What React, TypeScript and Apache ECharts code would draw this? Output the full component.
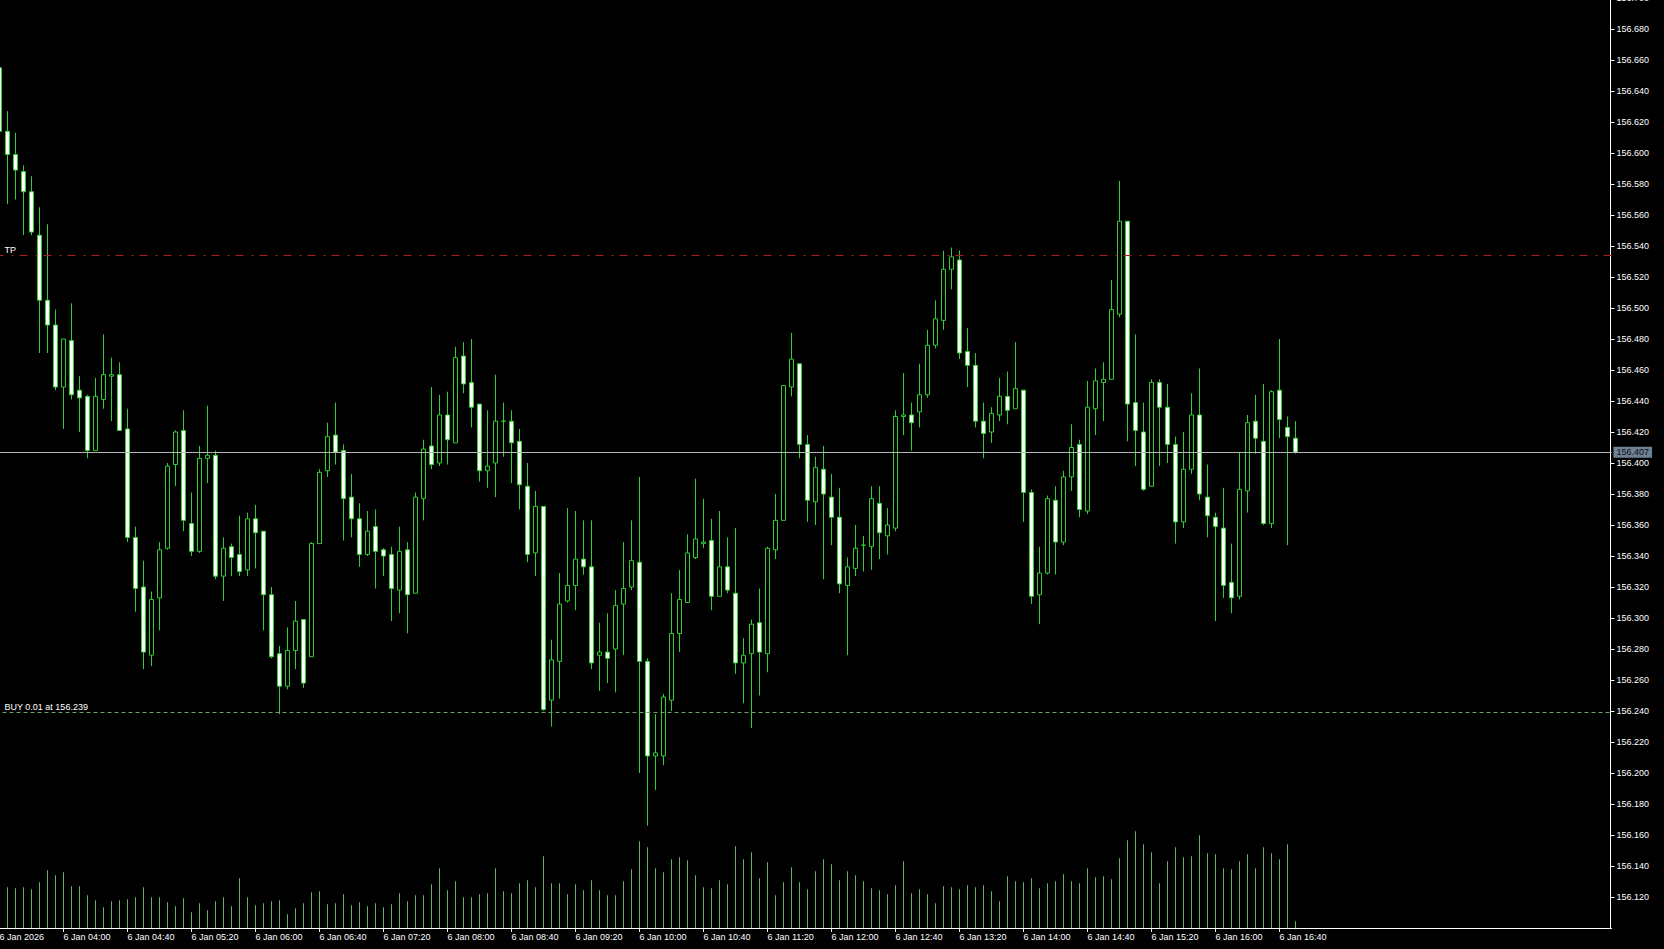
import React, { useEffect, useRef } from "react";
import * as echarts from "echarts";

// ---- data ----
const DAY_LABEL = "6 Jan";
const FIRST_LABEL = "6 Jan 2026";
const START_MINUTES = 3 * 60 + 20; // 03:20
const BAR_MINUTES = 5;
const TOTAL_SLOTS = 202; // visible slots incl. empty right margin
const LABEL_EVERY = 8;

const open = [
  156.655, 156.614, 156.599, 156.588, 156.575, 156.547, 156.505, 156.489, 156.449, 156.479,
  156.447, 156.443, 156.408, 156.441, 156.456, 156.457, 156.422, 156.352, 156.320, 156.276,
  156.313, 156.345, 156.399, 156.421, 156.361, 156.343, 156.403, 156.405, 156.327, 156.346,
  156.341, 156.331, 156.364, 156.356, 156.315, 156.277, 156.256, 156.279, 156.299, 156.275,
  156.348, 156.395, 156.418, 156.408, 156.378, 156.364, 156.341, 156.359, 156.344, 156.341,
  156.318, 156.344, 156.316, 156.377, 156.411, 156.400, 156.431, 156.413, 156.469, 156.452,
  156.438, 156.395, 156.400, 156.427, 156.427, 156.414, 156.385, 156.342, 156.372, 156.247,
  156.272, 156.311, 156.321, 156.338, 156.333, 156.276, 156.278, 156.280, 156.309, 156.320,
  156.336, 156.272, 156.211, 156.211, 156.247, 156.290, 156.310, 156.339, 156.348, 156.350,
  156.314, 156.333, 156.316, 156.271, 156.277, 156.297, 156.277, 156.344, 156.363, 156.449,
  156.464, 156.412, 156.375, 156.396, 156.378, 156.365, 156.321, 156.332, 156.347, 156.346,
  156.374, 156.353, 156.358, 156.430, 156.431, 156.433, 156.444, 156.476, 156.492, 156.525,
  156.531, 156.472, 156.463, 156.427, 156.420, 156.431, 156.443, 156.435, 156.447, 156.381,
  156.315, 156.329, 156.376, 156.349, 156.391, 156.412, 156.369, 156.435, 156.452, 156.454,
  156.496, 156.556, 156.439, 156.420, 156.385, 156.452, 156.436, 156.412, 156.362, 156.396,
  156.431, 156.378, 156.365, 156.358, 156.323, 156.314, 156.382, 156.427, 156.414, 156.361,
  156.447, 156.423, 156.416,
];

const high = [
  156.657, 156.627, 156.613, 156.592, 156.585, 156.565, 156.554, 156.499, 156.480, 156.503,
  156.456, 156.444, 156.455, 156.483, 156.468, 156.465, 156.435, 156.359, 156.337, 156.317,
  156.349, 156.400, 156.421, 156.434, 156.381, 156.411, 156.437, 156.408, 156.352, 156.348,
  156.366, 156.368, 156.373, 156.356, 156.320, 156.282, 156.294, 156.311, 156.299, 156.349,
  156.396, 156.426, 156.439, 156.412, 156.393, 156.374, 156.369, 156.370, 156.345, 156.346,
  156.359, 156.349, 156.381, 156.415, 156.449, 156.444, 156.446, 156.475, 156.478, 156.480,
  156.438, 156.434, 156.457, 156.439, 156.434, 156.422, 156.400, 156.382, 156.372, 156.286,
  156.329, 156.371, 156.369, 156.363, 156.363, 156.297, 156.303, 156.318, 156.349, 156.363,
  156.391, 156.274, 156.238, 156.251, 156.316, 156.331, 156.354, 156.390, 156.377, 156.364,
  156.369, 156.352, 156.358, 156.287, 156.299, 156.319, 156.346, 156.380, 156.450, 156.484,
  156.464, 156.418, 156.404, 156.411, 156.393, 156.384, 156.339, 156.360, 156.353, 156.385,
  156.385, 156.371, 156.434, 156.458, 156.439, 156.464, 156.486, 156.505, 156.537, 156.539,
  156.537, 156.487, 156.471, 156.439, 156.436, 156.455, 156.459, 156.478, 156.447, 156.383,
  156.346, 156.379, 156.385, 156.395, 156.425, 156.415, 156.453, 156.461, 156.465, 156.518,
  156.582, 156.556, 156.483, 156.439, 156.454, 156.454, 156.451, 156.417, 156.420, 156.445,
  156.461, 156.399, 156.368, 156.384, 156.348, 156.407, 156.431, 156.444, 156.451, 156.447,
  156.480, 156.430, 156.427,
];

const low = [
  156.610, 156.567, 156.570, 156.547, 156.547, 156.471, 156.471, 156.447, 156.422, 156.441,
  156.420, 156.403, 156.408, 156.435, 156.427, 156.421, 156.349, 156.304, 156.267, 156.269,
  156.292, 156.344, 156.385, 156.356, 156.340, 156.342, 156.387, 156.325, 156.311, 156.327,
  156.327, 156.327, 156.332, 156.292, 156.274, 156.238, 156.254, 156.267, 156.255, 156.275,
  156.348, 156.391, 156.399, 156.350, 156.352, 156.333, 156.340, 156.319, 156.327, 156.298,
  156.303, 156.290, 156.316, 156.363, 156.396, 156.398, 156.399, 156.413, 156.445, 156.423,
  156.388, 156.384, 156.378, 156.404, 156.387, 156.370, 156.336, 156.327, 156.240, 156.230,
  156.248, 156.310, 156.305, 156.328, 156.267, 156.253, 156.258, 156.252, 156.276, 156.318,
  156.200, 156.166, 156.189, 156.205, 156.240, 156.278, 156.310, 156.338, 156.345, 156.305,
  156.314, 156.316, 156.264, 156.245, 156.229, 156.250, 156.265, 156.338, 156.363, 156.443,
  156.403, 156.362, 156.360, 156.325, 156.347, 156.316, 156.276, 156.327, 156.330, 156.331,
  156.338, 156.341, 156.356, 156.418, 156.408, 156.423, 156.442, 156.474, 156.486, 156.512,
  156.467, 156.449, 156.423, 156.403, 156.413, 156.427, 156.425, 156.435, 156.362, 156.309,
  156.296, 156.328, 156.328, 156.347, 156.382, 156.365, 156.367, 156.418, 156.427, 156.454,
  156.494, 156.414, 156.398, 156.382, 156.385, 156.398, 156.400, 156.348, 156.358, 156.393,
  156.376, 156.352, 156.298, 156.313, 156.303, 156.312, 156.368, 156.406, 156.360, 156.358,
  156.416, 156.347, 156.406,
];

const close = [
  156.614, 156.599, 156.589, 156.575, 156.549, 156.505, 156.489, 156.449, 156.480, 156.444,
  156.442, 156.408, 156.443, 156.457, 156.457, 156.421, 156.352, 156.319, 156.278, 156.312,
  156.344, 156.398, 156.420, 156.363, 156.343, 156.403, 156.405, 156.327, 156.345, 156.339,
  156.330, 156.364, 156.355, 156.315, 156.275, 156.256, 156.279, 156.298, 156.258, 156.348,
  156.394, 156.417, 156.407, 156.377, 156.364, 156.341, 156.356, 156.343, 156.340, 156.319,
  156.343, 156.315, 156.378, 156.409, 156.399, 156.431, 156.415, 156.468, 156.451, 156.436,
  156.395, 156.398, 156.427, 156.427, 156.413, 156.386, 156.341, 156.372, 156.241, 156.273,
  156.309, 156.321, 156.338, 156.333, 156.271, 156.278, 156.274, 156.308, 156.319, 156.337,
  156.272, 156.211, 156.213, 156.249, 156.290, 156.312, 156.342, 156.351, 156.349, 156.314,
  156.333, 156.318, 156.271, 156.276, 156.296, 156.278, 156.345, 156.363, 156.450, 156.467,
  156.412, 156.376, 156.397, 156.380, 156.365, 156.322, 156.333, 156.345, 156.347, 156.377,
  156.355, 156.360, 156.430, 156.431, 156.426, 156.444, 156.476, 156.493, 156.525, 156.533,
  156.471, 156.463, 156.427, 156.419, 156.432, 156.443, 156.434, 156.448, 156.381, 156.314,
  156.329, 156.377, 156.349, 156.391, 156.410, 156.370, 156.436, 156.453, 156.454, 156.499,
  156.556, 156.438, 156.421, 156.383, 156.452, 156.436, 156.412, 156.362, 156.396, 156.431,
  156.380, 156.366, 156.359, 156.321, 156.313, 156.383, 156.426, 156.416, 156.361, 156.446,
  156.428, 156.417, 156.407,
];

const volume = [
  160, 122, 119, 122, 116, 137, 173, 158, 167, 125,
  125, 98, 83, 62, 80, 83, 86, 92, 122, 92,
  92, 77, 65, 89, 47, 74, 53, 80, 92, 65,
  149, 92, 68, 74, 80, 83, 41, 59, 74, 107,
  110, 71, 74, 101, 68, 77, 65, 74, 62, 71,
  104, 80, 98, 98, 131, 179, 113, 140, 92, 92,
  101, 104, 179, 110, 104, 134, 143, 122, 215, 134,
  134, 101, 131, 113, 143, 113, 98, 98, 140, 176,
  260, 242, 179, 167, 206, 212, 203, 158, 122, 119,
  143, 131, 245, 206, 227, 149, 197, 98, 137, 182,
  137, 116, 170, 206, 191, 143, 170, 158, 140, 119,
  113, 101, 128, 200, 104, 116, 101, 74, 125, 122,
  116, 128, 122, 128, 110, 80, 155, 140, 137, 149,
  119, 134, 140, 161, 140, 134, 179, 152, 155, 146,
  209, 263, 290, 251, 227, 134, 200, 242, 212, 215,
  278, 224, 221, 179, 176, 200, 221, 179, 242, 224,
  206, 251, 20,
];

const BUY_PRICE = 156.239;
const BUY_LOTS = "0.01";
const TP_PRICE = 156.534;
const LAST_PRICE = 156.407;

const Y_MIN = 156.1;
const Y_MAX = 156.70065;
const Y_STEP = 0.02;
const VOL_MAX = 294;

// ---- derived ----
const pad = (n: number) => (n < 10 ? "0" + n : "" + n);
const categories = Array.from({ length: TOTAL_SLOTS }, (_, i) => {
  const m = START_MINUTES + i * BAR_MINUTES;
  return pad(Math.floor(m / 60) % 24) + ":" + pad(m % 60);
});
const N = Math.min(open.length, high.length, low.length, close.length);
const candleData = Array.from({ length: N }, (_, i) => [open[i], close[i], low[i], high[i]]);
const volumeData = volume.slice(0, N);

const FONT = '"Liberation Sans", Arial, sans-serif';
const WICK = "#33cc33";

// chart container is shifted up/left so the plot can start slightly off-screen
const SHIFT_X = 20;
const SHIFT_Y = 20;
const W = 1664 + SHIFT_X;
const H = 949 + SHIFT_Y;
const GRID_LEFT = SHIFT_X - 4.5;
const GRID_RIGHT = W - (SHIFT_X + 1611.5);
const GRID_TOP = SHIFT_Y - 3;
const GRID_BOTTOM = H - (SHIFT_Y + 928);

export default function App() {
  const ref = useRef<HTMLDivElement>(null);

  useEffect(() => {
    if (!ref.current) return;
    const chart = echarts.init(ref.current, undefined, { renderer: "svg" });
    const showIdx = (index: number) => index % LABEL_EVERY === 0 && index < N;

    chart.setOption({
      animation: false,
      backgroundColor: "#000000",
      textStyle: { fontFamily: FONT },
      grid: [
        { left: GRID_LEFT, right: GRID_RIGHT, top: GRID_TOP, bottom: GRID_BOTTOM },
        { left: GRID_LEFT, right: GRID_RIGHT, bottom: GRID_BOTTOM, height: 98 },
      ],
      xAxis: [
        {
          type: "category",
          gridIndex: 0,
          data: categories,
          boundaryGap: true,
          axisLine: { show: true, lineStyle: { color: "#ffffff", width: 1 } },
          axisTick: {
            show: true,
            alignWithLabel: true,
            interval: (index: number) => showIdx(index),
            length: 4,
            lineStyle: { color: "#ffffff" },
          },
          axisLabel: {
            interval: (index: number) => showIdx(index),
            formatter: (value: string, index: number) =>
              index === 0 ? FIRST_LABEL : DAY_LABEL + " " + value,
            color: "#ffffff",
            fontSize: 9,
            fontFamily: FONT,
            align: "left",
            margin: 4,
          },
          splitLine: { show: false },
        },
        {
          type: "category",
          gridIndex: 1,
          data: categories,
          boundaryGap: true,
          show: false,
        },
      ],
      yAxis: [
        {
          type: "value",
          gridIndex: 0,
          position: "right",
          offset: -1,
          min: Y_MIN,
          max: Y_MAX,
          interval: Y_STEP,
          axisLine: { show: true, lineStyle: { color: "#ffffff", width: 1 } },
          axisTick: { show: true, inside: false, length: 4, lineStyle: { color: "#ffffff" } },
          axisLabel: {
            color: "#ffffff",
            fontSize: 9,
            fontFamily: FONT,
            margin: 6,
            showMinLabel: false,
            formatter: (v: number) => (Math.abs(v - Y_MIN) < 1e-6 ? "" : v.toFixed(3)),
          },
          splitLine: { show: false },
        },
        {
          type: "value",
          gridIndex: 1,
          min: 0,
          max: VOL_MAX,
          show: false,
          splitLine: { show: false },
        },
      ],
      series: [
        {
          type: "bar",
          xAxisIndex: 1,
          yAxisIndex: 1,
          data: volumeData,
          barWidth: 1,
          itemStyle: { color: "#62b462" },
          silent: true,
        },
        {
          type: "candlestick",
          xAxisIndex: 0,
          yAxisIndex: 0,
          data: candleData,
          barWidth: 4,
          clip: false,
          itemStyle: {
            color: "#000000",
            color0: "#ffffff",
            borderColor: WICK,
            borderColor0: WICK,
            borderColorDoji: WICK,
            borderWidth: 1,
          },
          markLine: {
            silent: true,
            precision: 3,
            symbol: ["none", "none"],
            animation: false,
            data: [
              {
                yAxis: TP_PRICE,
                lineStyle: { color: "#b01c1c", type: [8, 8, 2, 6], width: 1 },
                label: {
                  show: true,
                  position: "insideStartTop",
                  formatter: "TP",
                  color: "#ffffff",
                  fontSize: 9,
                  fontFamily: FONT,
                  distance: [9, 1],
                },
              },
              {
                yAxis: BUY_PRICE,
                lineStyle: { color: "#6f9f6f", type: [4, 3], width: 1 },
                label: {
                  show: true,
                  position: "insideStartTop",
                  formatter: `BUY ${BUY_LOTS} at ${BUY_PRICE.toFixed(3)}`,
                  color: "#ffffff",
                  fontSize: 9,
                  fontFamily: FONT,
                  distance: [9, 1],
                },
              },
              {
                yAxis: LAST_PRICE,
                lineStyle: { color: "#b4b4b4", type: "solid", width: 1 },
                label: {
                  show: true,
                  position: "end",
                  formatter: LAST_PRICE.toFixed(3),
                  color: "#0c1016",
                  backgroundColor: "#6f8194",
                  padding: [1, 3, 0, 3],
                  lineHeight: 10,
                  fontSize: 9,
                  fontFamily: FONT,
                  distance: 2,
                },
              },
            ],
          },
        },
      ],
    });

    return () => chart.dispose();
  }, []);

  return (
    <div
      ref={ref}
      style={{
        position: "fixed",
        left: -SHIFT_X,
        top: -SHIFT_Y,
        width: W,
        height: H,
        background: "#000",
      }}
    />
  );
}
